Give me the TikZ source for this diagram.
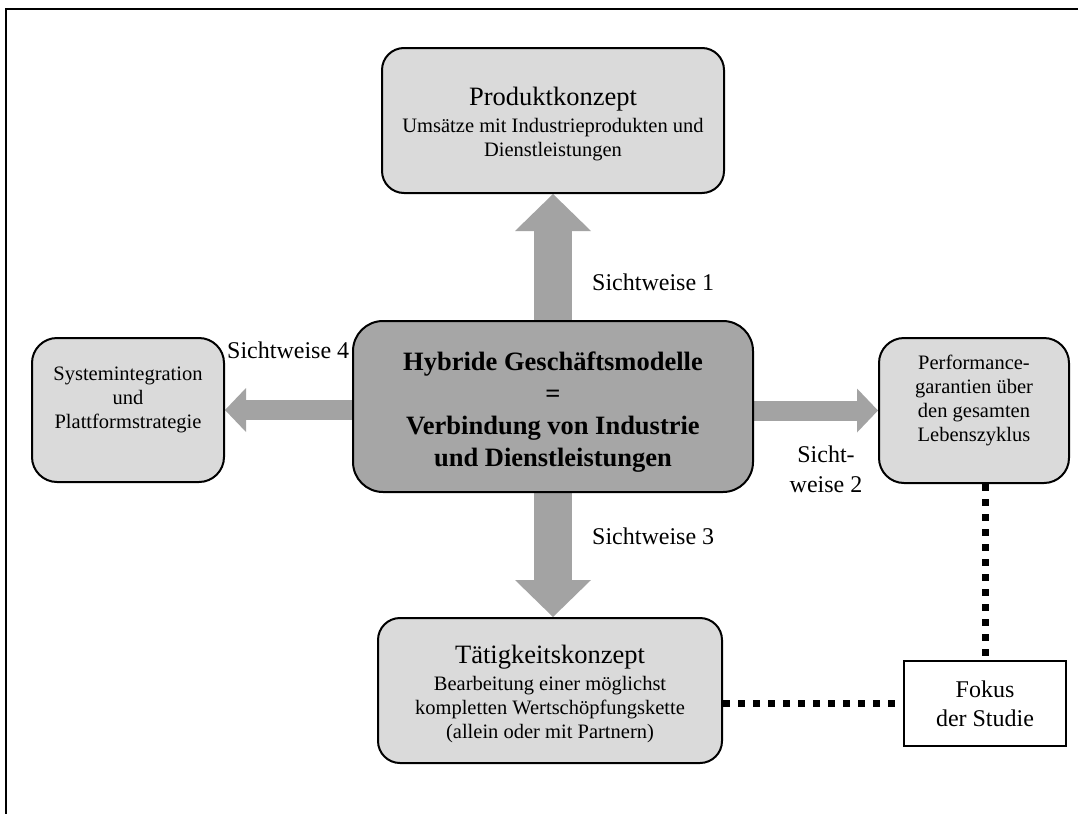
\documentclass[tikz,border=0pt]{standalone}
\usepackage{fontspec}
\setmainfont{Liberation Serif}
\usetikzlibrary{arrows.meta,backgrounds}
\definecolor{boxgray}{HTML}{DADADA}
\definecolor{midgray}{HTML}{A6A6A6}
\definecolor{arrowgray}{HTML}{A3A3A3}
\def\titlesize{\fontsize{26.5}{27}\selectfont}
\def\textsize{\fontsize{20.5}{24}\selectfont}
\def\labelsize{\fontsize{24}{30}\selectfont}
\tikzset{
  concept/.style={draw, line width=2pt, rounded corners=22pt, fill=boxgray, align=center, inner sep=0pt, font=\textsize},
  viewlabel/.style={inner sep=0pt, font=\labelsize},
  viewarrow/.style={draw=arrowgray, line width=38pt, -{Triangle[length=37pt, width=76pt, line width=0pt]}},
  sidearrow/.style={draw=arrowgray, line width=20pt, -{Triangle[length=21pt, width=44pt, line width=0pt]}},
  focusline/.style={line width=7pt, dash pattern=on 7pt off 8pt}
}

\begin{document}
\begin{tikzpicture}[x=1pt, y=-1pt]
      \useasboundingbox (0,0) rectangle (1078,814);

      % Frame
      \draw[line width=2.5pt] (1078,9) -- (6,9) -- (6,814);

      % Boxes
      \begin{scope}
        % Produkt
        \node[concept, minimum width=342pt, minimum height=145pt] (prod) at (553,120.5)
          {{\titlesize\rule{0pt}{26pt}Produktkonzept}\\[3pt]Umsätze mit Industrieprodukten und\\Dienstleistungen};

        % Hybrid
        \node[concept, fill=midgray, rounded corners=30pt, minimum width=400pt, minimum height=171pt,
              font=\bfseries\fontsize{26.5}{32}\selectfont] (mid) at (553,406.5)
          {\rule{0pt}{30pt}Hybride Geschäftsmodelle\\=\\Verbindung von Industrie\\und Dienstleistungen};

        % System
        \node[concept, rounded corners=25pt, minimum width=192pt, minimum height=144pt] (sys) at (128,410)
          {Systemintegration\\und\\Plattformstrategie\\\mbox{}};

        % Performance
        \node[concept, rounded corners=25pt, minimum width=190pt, minimum height=145pt] (perf) at (974,410.5)
          {Performance-\\garantien über\\den gesamten\\Lebenszyklus\\\mbox{}};

        % Taetigkeit
        \node[concept, minimum width=344pt, minimum height=145pt] (tat) at (550,690.5)
          {{\titlesize\rule{0pt}{26pt}Tätigkeitskonzept}\\[3pt]Bearbeitung einer möglichst\\kompletten Wertschöpfungskette\\(allein oder mit Partnern)};

        % Fokus
        \node[draw, line width=2pt, fill=white, align=center, font=\fontsize{24}{29}\selectfont,
              minimum width=162pt, minimum height=85pt, inner sep=0pt] (fokus) at (985,703.5)
          {Fokus\\der Studie};
      \end{scope}

      % Arrows
      \begin{scope}[on background layer]
        \draw[viewarrow] (mid.north) -- (prod.south);
        \draw[viewarrow] (mid.south) -- (mid.south |- tat.north);
        \draw[sidearrow] (mid.west |- sys.east) -- (sys.east);
        \draw[sidearrow] (mid.east |- perf.west) -- (perf.west);
      \end{scope}

      % Sichtweisen
      \node[viewlabel, anchor=base west] (view1) at (592,290) {Sichtweise 1};
      \node[viewlabel, align=center] (view2) at (826,469) {Sicht-\\weise 2};
      \node[viewlabel, anchor=base west] (view3) at (592,544) {Sichtweise 3};
      \node[viewlabel, anchor=base west] (view4) at (227,358) {Sichtweise 4};

      % Fokus lines
      \draw[focusline] (fokus.north |- perf.south) -- (fokus.north);
      \draw[focusline] (fokus.west -| tat.east) -- (fokus.west);

    \end{tikzpicture}
\end{document}
